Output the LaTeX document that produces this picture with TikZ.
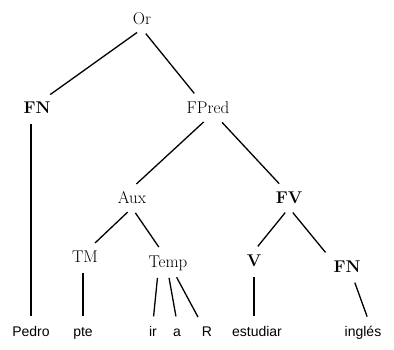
\documentclass[tikz,border=0pt]{standalone}
\usepackage{fontspec}
\newfontfamily\leaffont{Liberation Sans}
\usetikzlibrary{calc}

\begin{document}
\begin{tikzpicture}[
  x=1pt, y=-1pt,
  cat/.style={inner sep=4pt, text height=11.5pt, text depth=0pt,
              font=\fontsize{17}{19}\selectfont},
  word/.style={anchor=base, inner sep=4pt, text height=10pt, text depth=3pt,
               font=\leaffont\fontsize{14}{16}\selectfont},
  branch/.style={line width=1.3pt, shorten <=6pt, shorten >=6pt},
]
\useasboundingbox (0,0) rectangle (394,350);
%% Row 1: sentence
\node[cat] (or) at (142,19) {Or};
%% Row 2: subject and predicate
\node[cat] (fn) at (37,108) {\bfseries FN};
\node[cat] (fpred) at (208,108) {FPred};
\draw[branch] (or.south) -- (fn.50);
\draw[branch] (or.south) -- (fpred.135);
%% Row 3: auxiliary and verb phrase
\node[cat] (aux) at (132,198) {Aux};
\node[cat] (fv) at (289,198) {\bfseries FV};
\draw[branch] (fpred.south) -- (aux.north);
\draw[branch] (fpred.-45) -- (fv.120);
%% Row 4
\node[cat] (tm) at (85,257) {TM};
\node[cat] (temp) at (168,262) {Temp};
\node[cat] (v) at (254,261) {\bfseries V};
\node[cat] (fnobj) at (347,267) {\bfseries FN};
\draw[branch] (aux.south) -- (tm.60);
\draw[branch] (aux.south) -- (temp.120);
\draw[branch] (fv.south) -- (v.north);
\draw[branch] (fv.south) -- (fnobj.north west);
%% Row 5: words
\node[word] (pedro) at (31,336.5) {Pedro};
\node[word] (pte) at (83,336.5) {pte};
\node[word] (ir) at (153,336.5) {ir};
\node[word] (wa) at (177,336.5) {a};
\node[word] (wR) at (207,336.5) {R};
\node[word] (estudiar) at (257,336.5) {estudiar};
\node[word] (ingles) at (363,336.5) {inglés};
\draw[branch] (pedro.north |- fn.south) -- (pedro.north);
\draw[branch] (pte.north |- tm.south) -- (pte.north);
\draw[branch] (temp.-135) -- (ir.north);
\draw[branch] (temp.south) -- (wa.north);
\draw[branch] (temp.-60) -- (wR.120);
\draw[branch] (v.south) -- (v.south |- estudiar.north);
\draw[branch] (fnobj.-60) -- (ingles.60);
\end{tikzpicture}
\end{document}
